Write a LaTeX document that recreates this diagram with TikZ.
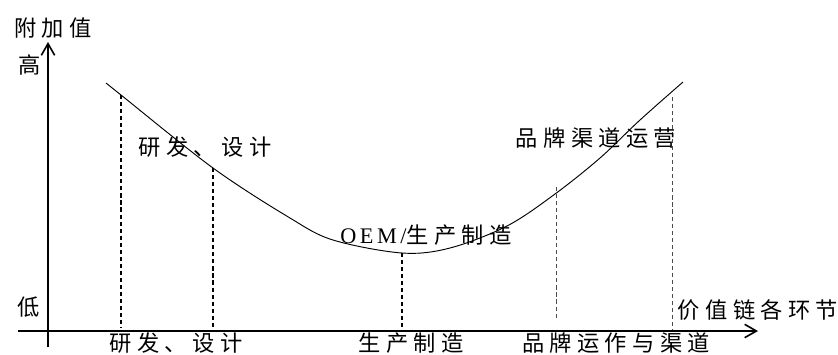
\documentclass[tikz,border=0pt]{standalone}
\usepackage{fontspec}
\setmainfont{Liberation Serif}
\newfontfamily\cjk[LetterSpace=24]{Noto Sans CJK SC}
\newfontfamily\lat[LetterSpace=16]{Liberation Serif}
\usetikzlibrary{arrows.meta}

\begin{document}
\begin{tikzpicture}[x=0.03cm,y=-0.03cm,
  axis/.style={line width=1.4pt,-{Straight Barb[length=3.5mm,width=4mm]}},
  drop/.style={dash pattern=on 3.5pt off 2.5pt,line width=1.1pt},
  dropthin/.style={drop,line width=0.7pt,black!70},
  lbl/.style={font=\cjk\fontsize{19}{21}\selectfont,inner sep=0pt}]

\useasboundingbox (0,0) rectangle (838,354);

% axes
\coordinate (xstart) at (18,331);
\coordinate (xend)   at (758,331);
\coordinate (ystart) at (48,347);
\coordinate (yend)   at (48,42);
\draw[axis] (xstart) -- (xend);
\draw[axis] (ystart) -- (yend);

% smile curve
\draw[line width=0.8pt] plot[smooth,tension=0.55] coordinates
  {(106,83) (121,95) (213,168) (290,218) (333,240) (402,253)
   (450,248) (507,226) (555,194) (600,158) (640,120) (683,82)};

% drop lines from the curve to the axis
\coordinate (rdtop) at (121,95);  \coordinate (rdbot) at (121,328);
\coordinate (dstop) at (213,168); \coordinate (dsbot) at (213,328);
\coordinate (mftop) at (402,253); \coordinate (mfbot) at (402,328);
\coordinate (chtop) at (556,187); \coordinate (chbot) at (556,318);
\coordinate (brtop) at (672,97);  \coordinate (brbot) at (672,330);
\draw[drop] (rdtop) -- (rdbot);
\draw[drop] (dstop) -- (dsbot);
\draw[drop] (mftop) -- (mfbot);
\draw[dropthin] (chtop) -- (chbot);
\draw[dropthin] (brtop) -- (brbot);

% axis labels
\node[lbl] (ylab)  at (53,28)   {附加值};
\node[lbl] (high)  at (30,65)   {高};
\node[lbl] (low)   at (29,307)  {低};
\node[lbl] (xlab)  at (758,310) {价值链各环节};

% stage labels on the curve
\node[lbl] (rd)    at (205,147) {研发、设计};
\node[lbl] (oem)   at (426,235) {{\lat OEM/}生产制造};
\node[lbl] (brand) at (596,138) {品牌渠道运营};

% stage labels under the axis
\node[lbl] (rdx)    at (176,343) {研发、设计};
\node[lbl] (mfx)    at (411,343) {生产制造};
\node[lbl] (brandx) at (616,343) {品牌运作与渠道};
\end{tikzpicture}
\end{document}
